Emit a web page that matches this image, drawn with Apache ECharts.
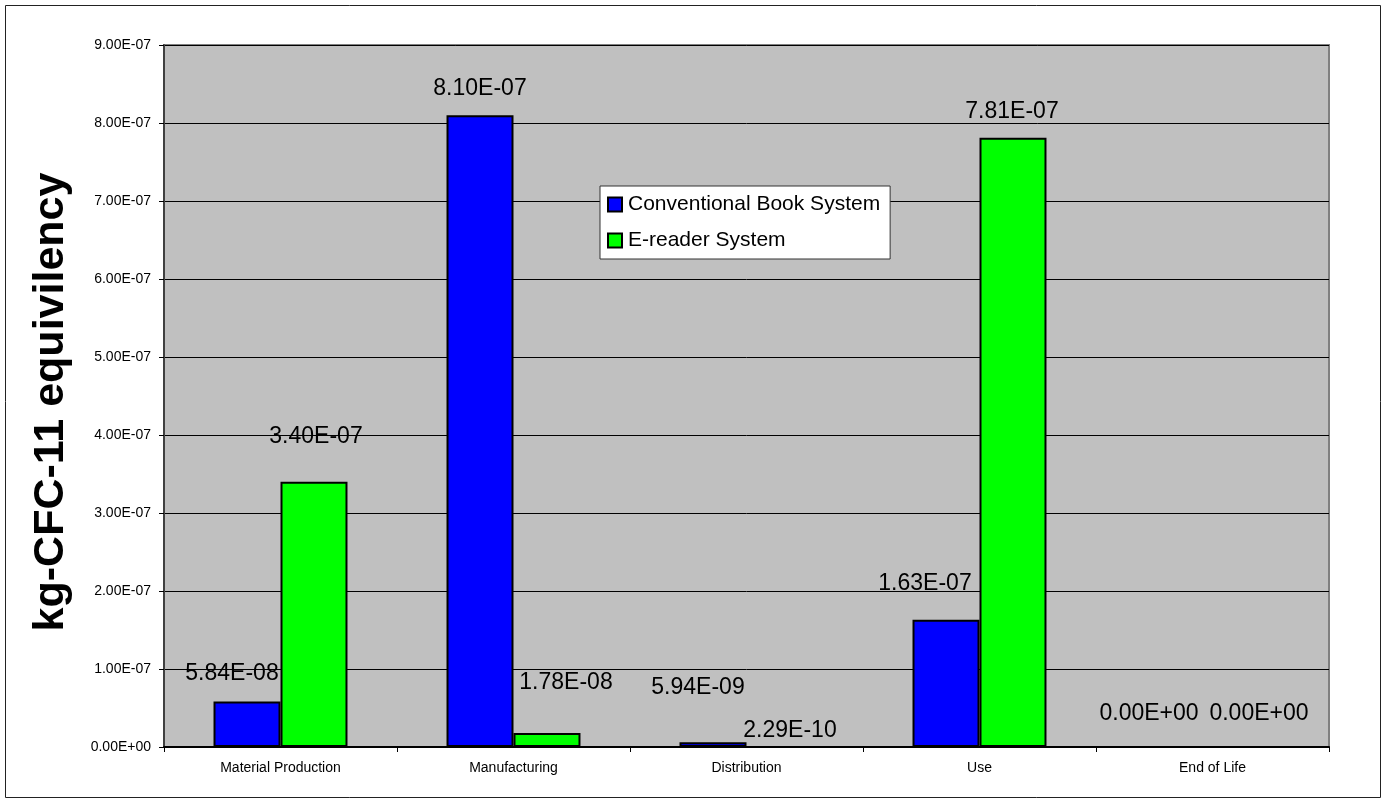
<!DOCTYPE html>
<html>
<head>
<meta charset="utf-8">
<title>kg-CFC-11 equivilency</title>
<script src="https://cdn.jsdelivr.net/npm/echarts@6/dist/echarts.min.js"></script>
<style>
  html, body { margin: 0; padding: 0; background: #fff; }
  #chart { width: 1387px; height: 804px; }
</style>
</head>
<body>
<div id="chart"></div>
<script>
// 数据
var categories = ["Material Production", "Manufacturing", "Distribution", "Use", "End of Life"];
var bookValues = [5.84e-8, 8.1e-7, 5.94e-9, 1.63e-7, 0];
var ereaderValues = [3.4e-7, 1.78e-8, 2.29e-10, 7.81e-7, 0];
var seriesNames = ["Conventional Book System", "E-reader System"];

// 标签偏移 (Excel 自动避让的位置)
var bookLabelShift = [[-15, -16], [0, -15], [-15, -43], [-21, -25], [-30, -21]];
var ereaderLabelShift = [[2, -34], [19, -39], [10, -4], [-1, -15], [13, -21]];

var FONT = "Liberation Sans, Arial, sans-serif";

// 科学计数法格式化, 如 8.10E-07
function sci(v) {
  if (!v) {
    return "0.00E+00";
  }
  var parts = Number(v).toExponential(2).split("e");
  var exp = parseInt(parts[1], 10);
  var sign = exp < 0 ? "-" : "+";
  var abs = Math.abs(exp);
  return parts[0] + "E" + sign + (abs < 10 ? "0" + abs : abs);
}

// 构造带标签偏移的数据项
function buildData(values, shifts) {
  return values.map(function (v, i) {
    return {
      value: v,
      label: { offset: shifts[i] },
    };
  });
}

var labelStyle = {
  show: true,
  position: "top",
  distance: 0,
  color: "#000",
  fontFamily: FONT,
  fontSize: 23,
  lineHeight: 23,
  formatter: function (p) {
    return sci(p.value);
  },
};

var chart = echarts.init(document.getElementById("chart"));
var option = {
  backgroundColor: "#fff",
  animation: false,
  textStyle: { fontFamily: FONT },
  graphic: [
    {
      type: "rect",
      shape: { x: 5.5, y: 5.5, width: 1375, height: 792 },
      style: { fill: "none", stroke: "#222", lineWidth: 1 },
      silent: true,
    },
  ],
  grid: {
    left: 164,
    right: 58,
    top: 45,
    bottom: 57,
    show: true,
    backgroundColor: "#C0C0C0",
    borderColor: "#808080",
    borderWidth: 2,
  },
  legend: {
    orient: "vertical",
    left: 600,
    top: 186,
    width: 293,
    data: seriesNames,
    icon: "rect",
    itemWidth: 14,
    itemHeight: 14,
    itemGap: 15,
    padding: [8, 10, 8, 7],
    backgroundColor: "#fff",
    borderColor: "#333",
    borderWidth: 1,
    selectedMode: false,
    textStyle: { color: "#000", fontFamily: FONT, fontSize: 21, padding: [0, 0, 0, 1] },
  },
  xAxis: {
    type: "category",
    data: categories,
    axisLine: { lineStyle: { color: "#000", width: 2 } },
    axisTick: { show: true, length: 5, lineStyle: { color: "#000" } },
    axisLabel: { color: "#000", fontFamily: FONT, fontSize: 14, margin: 14 },
  },
  yAxis: {
    type: "value",
    min: 0,
    max: 9e-7,
    interval: 1e-7,
    name: "kg-CFC-11 equivilency",
    nameLocation: "middle",
    nameRotate: 90,
    nameGap: 91,
    nameTextStyle: {
      color: "#000",
      fontFamily: FONT,
      fontSize: 43,
      fontWeight: "bold",
      padding: [0, 12, 0, 0],
    },
    axisLine: { show: true, lineStyle: { color: "#404040", width: 2 } },
    axisTick: { show: true, length: 5, lineStyle: { color: "#000" } },
    axisLabel: {
      color: "#000",
      fontFamily: FONT,
      fontSize: 14,
      margin: 13,
      formatter: sci,
    },
    splitLine: { show: true, lineStyle: { color: "#000", width: 1 } },
  },
  series: [
    {
      name: seriesNames[0],
      type: "bar",
      data: buildData(bookValues, bookLabelShift),
      barGap: "0%",
      barCategoryGap: "42.5%",
      itemStyle: { color: "#0000FF", borderColor: "#000", borderWidth: 2 },
      label: labelStyle,
    },
    {
      name: seriesNames[1],
      type: "bar",
      data: buildData(ereaderValues, ereaderLabelShift),
      barGap: "0%",
      barCategoryGap: "42.5%",
      itemStyle: { color: "#00FF00", borderColor: "#000", borderWidth: 2 },
      label: labelStyle,
    },
  ],
};
chart.setOption(option);
</script>
</body>
</html>
